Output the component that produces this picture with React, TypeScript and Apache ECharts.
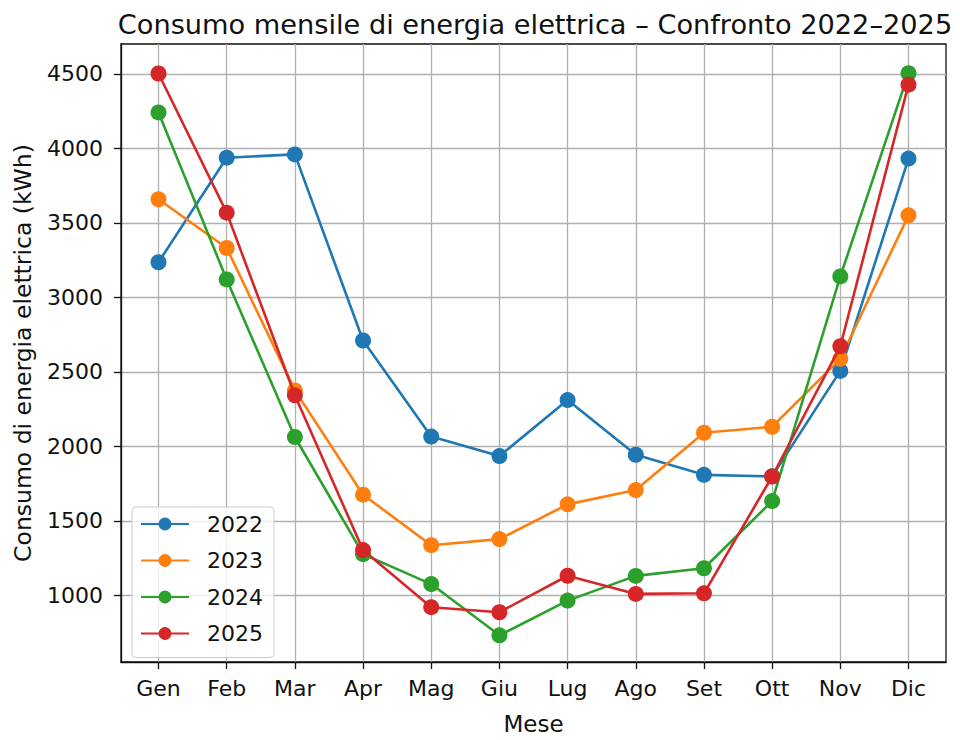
import React, { useEffect, useRef } from "react";
import * as echarts from "echarts";

const months = ["Gen", "Feb", "Mar", "Apr", "Mag", "Giu", "Lug", "Ago", "Set", "Ott", "Nov", "Dic"];
const years = ["2022", "2023", "2024", "2025"];
const v2022 = [3235, 3937, 3959, 2710, 2065, 1934, 2310, 1943, 1808, 1798, 2506, 3931];
const v2023 = [3658, 3331, 2375, 1675, 1336, 1377, 1610, 1706, 2091, 2131, 2587, 3550];
const v2024 = [4241, 3120, 2062, 1276, 1075, 731, 964, 1130, 1181, 1632, 3140, 4504];
const v2025 = [4502, 3568, 2342, 1303, 920, 886, 1131, 1009, 1013, 1797, 2671, 4427];
const yTicks = [1000, 1500, 2000, 2500, 3000, 3500, 4000, 4500];
const colors = ["#1f77b4", "#ff7f0e", "#2ca02c", "#d62728"];

const FONT = "DejaVu Sans";
const TXT = "#111";

export default function App() {
  const ref = useRef<HTMLDivElement>(null);
  useEffect(() => {
    if (!ref.current) return;
    const chart = echarts.init(ref.current, null, { renderer: "svg" });
    const all = [v2022, v2023, v2024, v2025];
    const xIdx = months.map((_, i) => i);
    chart.setOption({
      animation: false,
      backgroundColor: "#ffffff",
      textStyle: { fontFamily: FONT, color: TXT },
      title: {
        text: "Consumo mensile di energia elettrica – Confronto 2022–2025",
        left: 530,
        textAlign: "center",
        top: 6,
        textStyle: { fontFamily: FONT, fontSize: 27.2, fontWeight: "normal", color: TXT },
      },
      grid: {
        left: 121,
        right: 14,
        top: 44,
        bottom: 75,
        show: true,
        borderColor: TXT,
        borderWidth: 1.3,
        backgroundColor: "transparent",
      },
      legend: {
        data: years,
        orient: "vertical",
        left: 132,
        top: 507,
        itemWidth: 48,
        itemHeight: 16,
        itemGap: 14.5,
        padding: [6, 11, 13, 8],
        backgroundColor: "rgba(255,255,255,0.8)",
        borderColor: "#cccccc",
        borderWidth: 1,
        borderRadius: 4,
        textStyle: { fontFamily: FONT, fontSize: 22, color: TXT, padding: [0, 0, 0, 13] },
      },
      xAxis: {
        type: "value",
        min: -0.55,
        max: 11.55,
        name: "Mese",
        nameLocation: "middle",
        nameGap: 50,
        nameTextStyle: { fontFamily: FONT, fontSize: 23, color: TXT },
        axisLine: { show: true, onZero: false, lineStyle: { color: TXT, width: 1.3 } },
        axisTick: { show: true, length: 7, customValues: xIdx, lineStyle: { color: TXT, width: 1.3 } },
        axisLabel: {
          customValues: xIdx,
          margin: 15,
          fontFamily: FONT,
          fontSize: 22,
          color: TXT,
          formatter: (v: number) => months[Math.round(v)] ?? "",
        },
        splitLine: { show: true, lineStyle: { color: "#b0b0b0", width: 1.3 } },
      },
      yAxis: {
        type: "value",
        min: 552,
        max: 4700,
        name: "Consumo di energia elettrica (kWh)",
        nameLocation: "middle",
        nameGap: 86,
        nameRotate: 90,
        nameTextStyle: { fontFamily: FONT, fontSize: 23.5, color: TXT },
        axisLine: { show: true, onZero: false, lineStyle: { color: TXT, width: 1.3 } },
        axisTick: { show: true, length: 7, customValues: yTicks, lineStyle: { color: TXT, width: 1.3 } },
        axisLabel: {
          customValues: yTicks,
          margin: 18,
          fontFamily: FONT,
          fontSize: 22,
          color: TXT,
          formatter: (v: number) => String(v),
        },
        splitLine: { show: true, lineStyle: { color: "#b0b0b0", width: 1.3 } },
      },
      series: years.map((y, k) => ({
        name: y,
        type: "line",
        data: all[k].map((v, i) => [xIdx[i], v]),
        symbol: "circle",
        symbolSize: 16,
        color: colors[k],
        lineStyle: { width: 2.6, color: colors[k] },
        itemStyle: { color: colors[k] },
        z: 3 + k,
      })),
    });
    return () => chart.dispose();
  }, []);
  return <div ref={ref} style={{ width: 960, height: 740, margin: -8 }} />;
}
